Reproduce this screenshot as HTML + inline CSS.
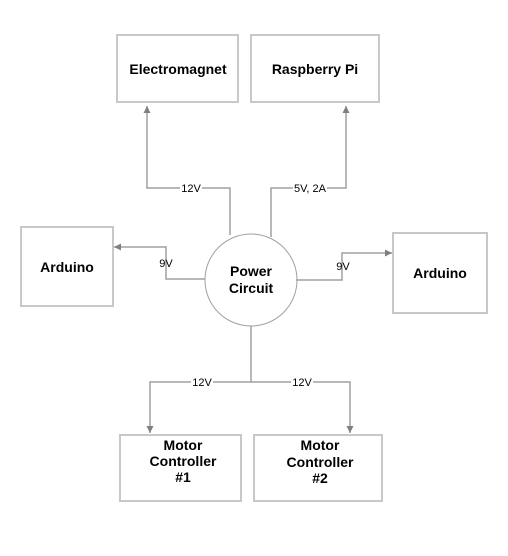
<!DOCTYPE html>
<html><head><style>
body{margin:0;background:#fff;}
text{font-family:"Liberation Sans",Arial,sans-serif;}
</style></head><body>
<svg width="508" height="551" viewBox="0 0 508 551" xmlns="http://www.w3.org/2000/svg">
<defs><marker id="a" markerWidth="8" markerHeight="8" refX="7" refY="4" orient="auto" markerUnits="userSpaceOnUse"><path d="M0,0.5 L7,4 L0,7.5 Z" fill="#808080"/></marker></defs>
<g fill="#fff" stroke="#c8c8c8" stroke-width="2">
<rect x="117" y="35" width="121" height="67"/>
<rect x="251" y="35" width="128" height="67"/>
<rect x="21" y="227" width="92" height="79"/>
<rect x="393" y="233" width="94" height="80"/>
<rect x="120" y="435" width="121" height="66"/>
<rect x="254" y="435" width="128" height="66"/>
</g>
<circle cx="251" cy="280" r="46" fill="#fff" stroke="#a0a0a0" stroke-width="1"/>
<g fill="none" stroke="#a0a0a0" stroke-width="1.5">
<path d="M230,235 V188 H147 V106" marker-end="url(#a)"/>
<path d="M271,237 V188 H346 V106" marker-end="url(#a)"/>
<path d="M205,279 H166 V247 H114" marker-end="url(#a)"/>
<path d="M296,280 H342 V253 H392" marker-end="url(#a)"/>
<path d="M251,326 V382 H150 V433" marker-end="url(#a)"/>
<path d="M251,382 H350 V433" marker-end="url(#a)"/>
</g>
<g font-size="11" text-anchor="middle" fill="#000">
<rect x="180" y="182" width="22" height="11" fill="#fff"/><text x="191" y="192">12V</text>
<rect x="293" y="182" width="34" height="11" fill="#fff"/><text x="310" y="192">5V, 2A</text>
<text x="166" y="267">9V</text>
<text x="343" y="270">9V</text>
<rect x="191" y="377" width="22" height="11" fill="#fff"/><text x="202" y="386">12V</text>
<rect x="291" y="377" width="22" height="11" fill="#fff"/><text x="302" y="386">12V</text>
</g>
<g font-size="14" font-weight="bold" text-anchor="middle" fill="#000">
<text x="178" y="74">Electromagnet</text>
<text x="315" y="74">Raspberry Pi</text>
<text x="67" y="272">Arduino</text>
<text x="440" y="278">Arduino</text>
<text x="251" y="276">Power</text>
<text x="251" y="293">Circuit</text>
<text x="183" y="450">Motor</text>
<text x="183" y="466">Controller</text>
<text x="183" y="482">#1</text>
<text x="320" y="450">Motor</text>
<text x="320" y="467">Controller</text>
<text x="320" y="483">#2</text>
</g>
</svg>
</body></html>
